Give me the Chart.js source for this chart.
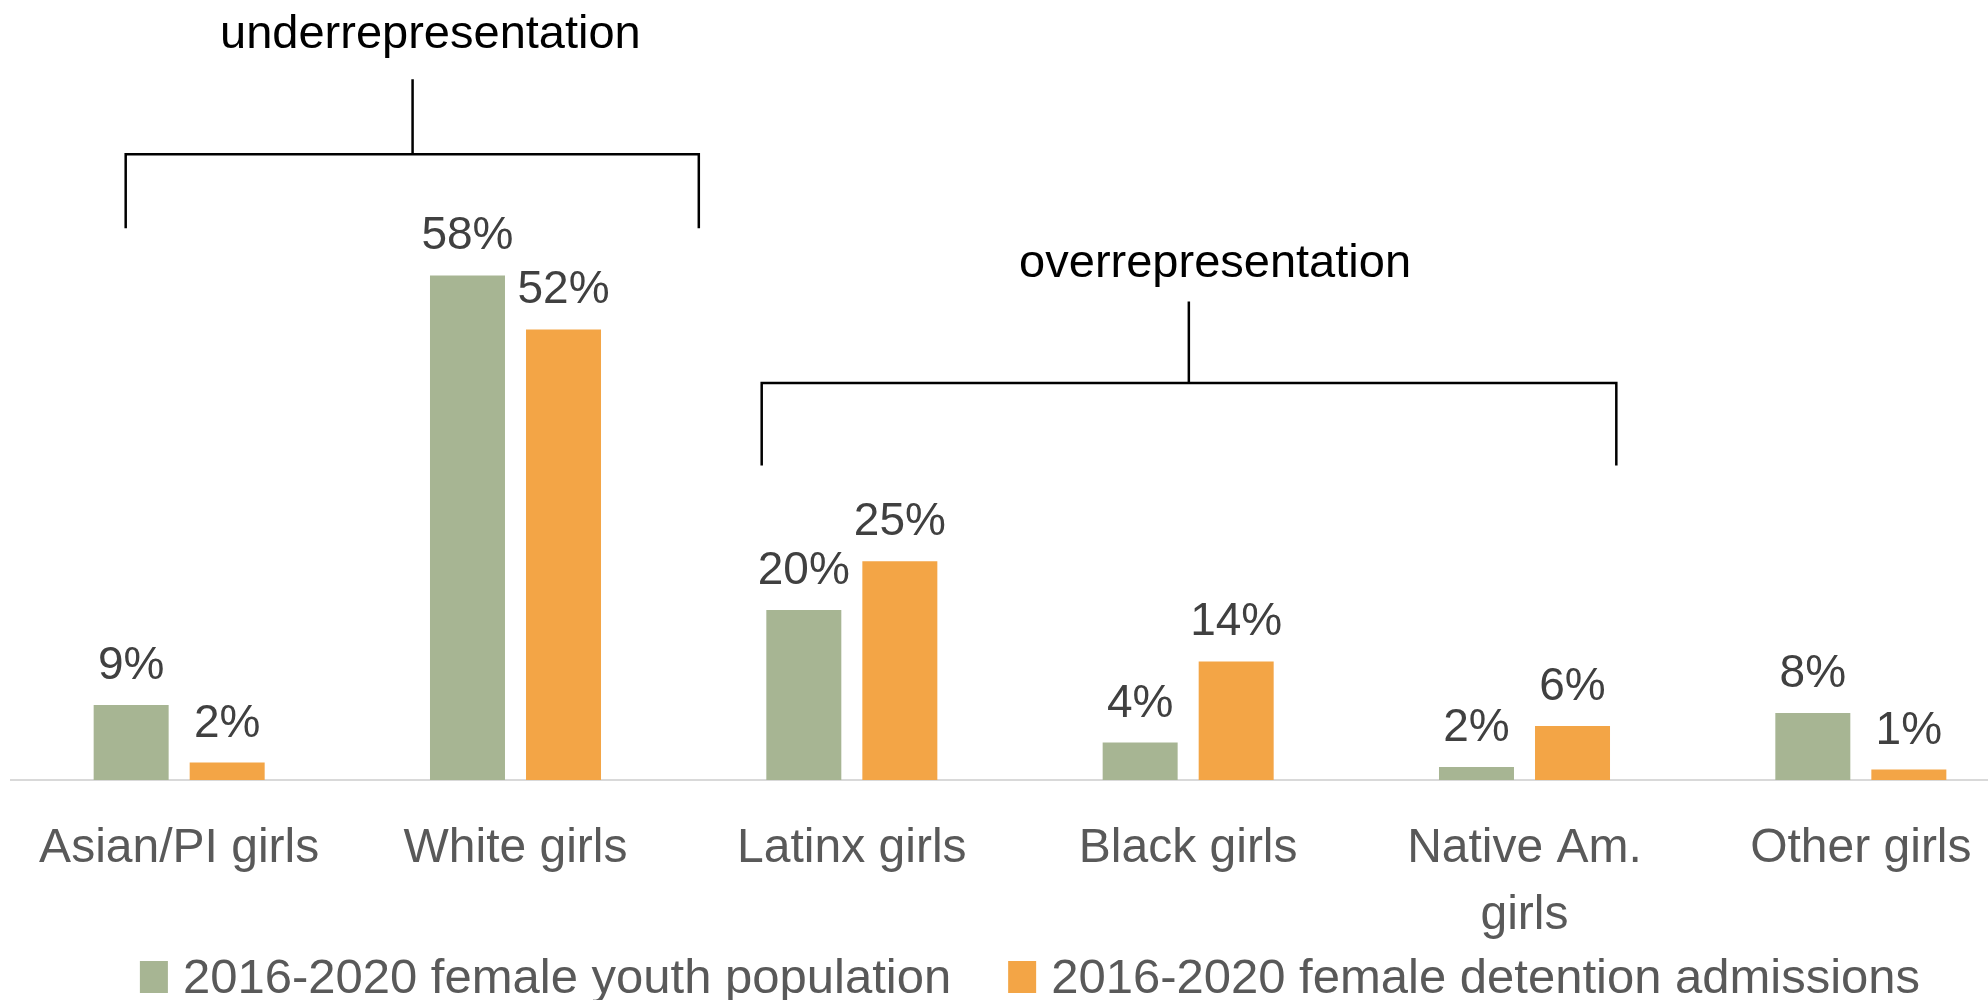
<!DOCTYPE html>
<html>
<head>
<meta charset="utf-8">
<script src="https://cdn.jsdelivr.net/npm/chart.js@4"></script>
<style>
  html, body { margin: 0; padding: 0; background: #fff; overflow: hidden; }
  #wrap { width: 1988px; height: 1000px; overflow: hidden; }
</style>
</head>
<body>
<div id="wrap"><canvas id="chart" width="2040" height="1000"></canvas></div>
<script>
// chart data
const categories = ['Asian/PI girls', 'White girls', 'Latinx girls', 'Black girls', ['Native Am.', 'girls'], 'Other girls'];
const populationShare = [8.6, 57.9, 19.5, 4.3, 1.5, 7.7];
const admissionShare = [2.0, 51.7, 25.1, 13.6, 6.2, 1.2];
const seriesNames = ['2016-2020 female youth population', '2016-2020 female detention admissions'];

const FONT = "'Liberation Sans Narrow', 'Arial Narrow', 'Liberation Sans', sans-serif";

// brackets above the bars (x in category index units, y in % units)
const brackets = [
    { text: 'underrepresentation', left: -0.159, right: 1.545, stem: 0.694, textX: 0.747, textY: 84.0, stemTop: 80.4, bar: 71.8, legs: 63.3 },
    { text: 'overrepresentation', left: 1.732, right: 4.273, stem: 3.002, textX: 3.08, textY: 57.75, stemTop: 54.9, bar: 45.55, legs: 36.1 },
];

// draws the % values above each bar
const valueLabels = {
    id: 'valueLabels',
    afterDatasetsDraw(chart) {
        const ctx = chart.ctx;
        ctx.save();
        ctx.font = '46px ' + FONT;
        ctx.fillStyle = '#404040';
        ctx.textAlign = 'center';
        ctx.textBaseline = 'alphabetic';
        chart.data.datasets.forEach((ds, i) => {
            chart.getDatasetMeta(i).data.forEach((bar, j) => {
                ctx.fillText(Math.round(ds.data[j]) + '%', bar.x, bar.y - 26);
            });
        });
        ctx.restore();
    }
};

// draws the two bracket annotations
const bracketPlugin = {
    id: 'brackets',
    afterDraw(chart) {
        const ctx = chart.ctx;
        const xs = chart.scales.x, ys = chart.scales.y;
        ctx.save();
        ctx.strokeStyle = '#000';
        ctx.lineWidth = 2.5;
        ctx.fillStyle = '#000';
        ctx.font = '47px ' + FONT;
        ctx.textAlign = 'center';
        ctx.textBaseline = 'alphabetic';
        brackets.forEach(b => {
            const l = xs.getPixelForValue(b.left), r = xs.getPixelForValue(b.right), s = xs.getPixelForValue(b.stem);
            const yBar = ys.getPixelForValue(b.bar), yLegs = ys.getPixelForValue(b.legs), yTop = ys.getPixelForValue(b.stemTop);
            ctx.beginPath();
            ctx.moveTo(l, yLegs); ctx.lineTo(l, yBar); ctx.lineTo(r, yBar); ctx.lineTo(r, yLegs);
            ctx.moveTo(s, yTop); ctx.lineTo(s, yBar);
            ctx.stroke();
            ctx.fillText(b.text, xs.getPixelForValue(b.textX), ys.getPixelForValue(b.textY));
        });
        ctx.restore();
    }
};

// legend drawn by hand so the gaps match the original
const legendPlugin = {
    id: 'bottomLegend',
    afterDraw(chart) {
        const ctx = chart.ctx;
        const sets = chart.data.datasets;
        const boxW = 28, boxH = 32, textGap = 15, itemGap = 57;
        ctx.save();
        ctx.font = '49px ' + FONT;
        const widths = sets.map(ds => boxW + textGap + ctx.measureText(ds.label).width);
        const total = widths.reduce((a, b) => a + b, 0) + itemGap * (sets.length - 1);
        let x = 1030 - total / 2;
        const cy = 977;
        ctx.textAlign = 'left';
        ctx.textBaseline = 'middle';
        sets.forEach((ds, i) => {
            ctx.fillStyle = ds.backgroundColor;
            ctx.fillRect(x, cy - boxH / 2, boxW, boxH);
            ctx.fillStyle = '#595959';
            ctx.fillText(ds.label, x + boxW + textGap, cy + 2);
            x += widths[i] + itemGap;
        });
        ctx.restore();
    }
};

new Chart(document.getElementById('chart'), {
    type: 'bar',
    data: {
        labels: categories,
        datasets: [
            { label: seriesNames[0], data: populationShare, backgroundColor: '#A7B593' },
            { label: seriesNames[1], data: admissionShare, backgroundColor: '#F3A546' },
        ]
    },
    options: {
        responsive: false,
        animation: false,
        events: [],
        layout: { padding: { left: 11, right: 11, top: 0, bottom: 50 } },
        datasets: { bar: { categoryPercentage: 0.571, barPercentage: 0.781 } },
        scales: {
            x: {
                grid: { display: false, drawTicks: false },
                border: { display: true, color: '#d9d9d9', width: 2 },
                ticks: {
                    color: '#595959',
                    font: { family: FONT, size: 48, lineHeight: 1.38 },
                    padding: 36,
                    maxRotation: 0,
                    autoSkip: false,
                },
                afterFit(scale) { scale.height = 170; },
            },
            y: { display: false, min: 0, max: 89.5 },
        },
        plugins: {
            legend: { display: false },
            tooltip: { enabled: false },
        },
    },
    plugins: [valueLabels, bracketPlugin, legendPlugin],
});
</script>
</body>
</html>
